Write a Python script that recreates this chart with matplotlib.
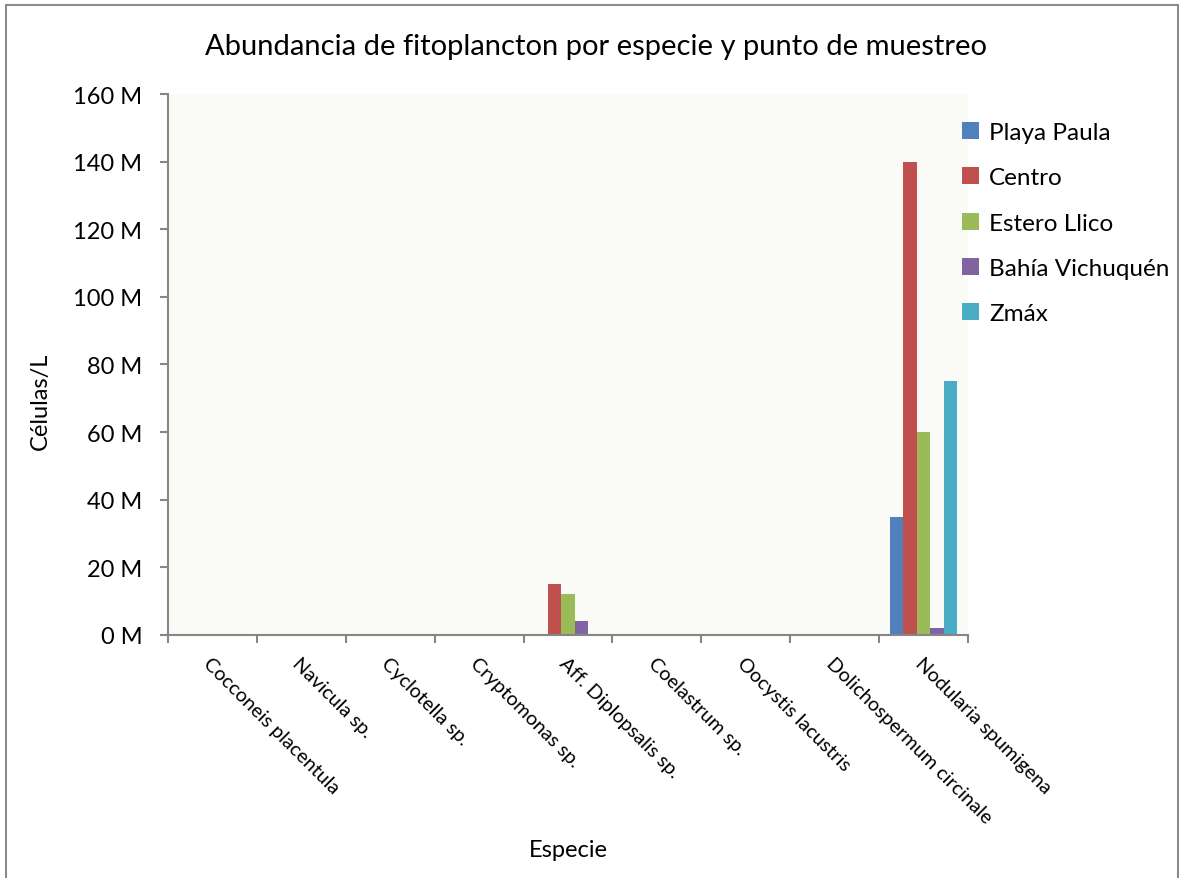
import matplotlib.pyplot as plt
import numpy as np
from matplotlib.patches import Rectangle
from matplotlib.ticker import FuncFormatter, FixedLocator

plt.rcParams['font.family'] = ['Lato', 'DejaVu Sans']

especies = ["Cocconeis placentula", "Navicula sp.", "Cyclotella sp.", "Cryptomonas sp.",
            "Aff. Diplopsalis sp.", "Coelastrum sp.", "Oocystis lacustris",
            "Dolichospermum circinale", "Nodularia spumigena"]
puntos = ["Playa Paula", "Centro", "Estero Llico", "Bahía Vichuquén", "Zmáx"]
colores = ["#4F81BD", "#C0504D", "#9BBB59", "#8064A2", "#4BACC6"]

# células/L por punto de muestreo (millones)
playa_paula = [0, 0, 0, 0, 0, 0, 0, 0, 35]
centro = [0, 0, 0, 0, 15, 0, 0, 0, 140]
estero_llico = [0, 0, 0, 0, 12, 0, 0, 0, 60]
bahia_vichuquen = [0, 0, 0, 0, 4, 0, 0, 0, 2]
zmax = [0, 0, 0, 0, 0, 0, 0, 0, 75]
series = [playa_paula, centro, estero_llico, bahia_vichuquen, zmax]

fig = plt.figure(figsize=(11.8, 8.79), dpi=100)
fig.patches.append(Rectangle((0.0055, -0.02), 0.993, 1.0135, transform=fig.transFigure,
                             fill=False, edgecolor="#8c8c8c", linewidth=1.5))

ax = fig.add_axes([0.1424, 0.2765, 0.678, 0.6154])
ax.set_facecolor("#fafaf7")

x = np.arange(len(especies))
ancho = 0.152
for i, (vals, nombre, c) in enumerate(zip(series, puntos, colores)):
    pos = x - 2 * ancho + i * ancho
    ax.bar(pos, np.array(vals) * 1e6, width=ancho, color=c, label=nombre, edgecolor="none")

ax.set_xlim(-0.5, len(especies) - 0.5)
ax.set_ylim(0, 160e6)
ax.set_yticks(np.arange(0, 161e6, 20e6))
ax.yaxis.set_major_formatter(FuncFormatter(lambda v, p: f"{v/1e6:.0f} M"))

ax.set_xticks(x)
ax.set_xticklabels(especies, rotation=-45, ha="left", va="top", rotation_mode="anchor")
ax.xaxis.set_minor_locator(FixedLocator(np.arange(-0.5, len(especies), 1)))
ax.tick_params(axis="x", which="major", length=0, pad=14, labelsize=14.3)
ax.tick_params(axis="x", which="minor", length=6, width=1.5, color="#868686", direction="out")
ax.tick_params(axis="y", length=6, width=1.5, color="#868686", labelsize=17, pad=12.5)

for s in ["top", "right"]:
    ax.spines[s].set_visible(False)
for s in ["left", "bottom"]:
    ax.spines[s].set_color("#868686")
    ax.spines[s].set_linewidth(1.5)

fig.text(0.505, 0.946, "Abundancia de fitoplancton por especie y punto de muestreo",
         ha="center", va="center", fontsize=21)
fig.text(0.482, 0.02, "Especie", ha="center", va="bottom", fontsize=17)
fig.text(0.034, 0.543, "Células/L", ha="center", va="center", rotation=90, fontsize=17)

fig.legend(loc="upper left", bbox_to_anchor=(0.797, 0.885), frameon=False, fontsize=17.5,
           handlelength=0.7, handleheight=0.7, handletextpad=0.4, labelspacing=1.0)

fig.savefig("out.png", dpi=100)
